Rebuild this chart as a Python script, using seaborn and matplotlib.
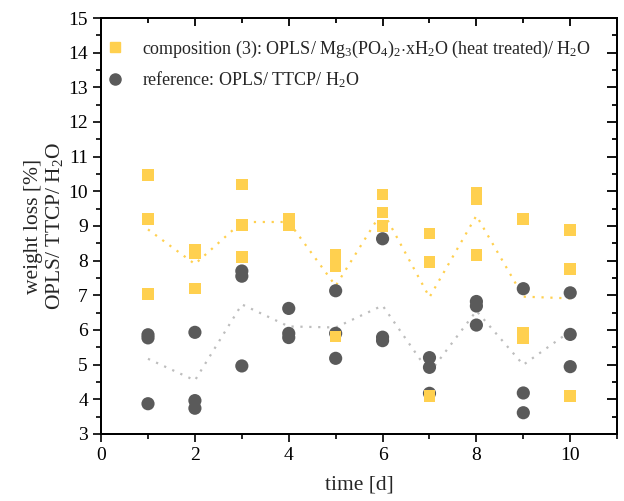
import numpy as np
import matplotlib
matplotlib.use("Agg")
import matplotlib.pyplot as plt
import seaborn as sns
import pandas as pd
from matplotlib.lines import Line2D
from matplotlib.ticker import MultipleLocator

# weight loss values, three samples per day
days = [1, 2, 3, 4, 5, 6, 7, 8, 9, 10]
comp3 = [
    [10.47, 9.20, 7.03],
    [8.30, 8.20, 7.20],
    [10.20, 9.03, 8.11],
    [9.20, 9.03],
    [8.17, 7.83, 5.81],
    [9.91, 9.39, 9.00],
    [8.78, 7.96, 4.09],
    [9.96, 9.77, 8.16],
    [9.20, 5.92, 5.76],
    [8.88, 7.75, 4.10],
]
reference = [
    [5.86, 5.77, 3.87],
    [5.93, 3.96, 3.74],
    [7.70, 7.55, 4.96],
    [6.62, 5.90, 5.78],
    [7.13, 5.90, 5.18],
    [8.63, 5.79, 5.69],
    [5.20, 4.92, 4.17],
    [6.82, 6.69, 6.14],
    [7.19, 4.18, 3.61],
    [7.07, 5.87, 4.94],
]

lbl_comp = r"composition (3): OPLS/ Mg$_3$(PO$_4$)$_2$$\cdot$xH$_2$O (heat treated)/ H$_2$O"
lbl_ref = r"reference: OPLS/ TTCP/ H$_2$O"

def to_long(vals):
    rows = []
    for d, v in zip(days, vals):
        for y in v:
            rows.append((d, y))
    return pd.DataFrame(rows, columns=["time", "loss"])

df_comp = to_long(comp3)
df_ref = to_long(reference)

yellow = "#FFD04F"
dark = "#5A5A5A"
light = "#BDBDBD"

sns.set_style("ticks")
plt.rcParams["font.family"] = ["Liberation Serif", "DejaVu Serif"]
plt.rcParams["mathtext.fontset"] = "custom"
plt.rcParams["mathtext.rm"] = "Liberation Serif"
plt.rcParams["mathtext.it"] = "Liberation Serif:italic"

fig = plt.figure(figsize=(6.24, 5.01), dpi=100)
ax = fig.add_axes([0.162, 0.134, 0.827, 0.830])

# mean curves (dotted)
sns.lineplot(x="time", y="loss", data=df_comp, estimator="mean", errorbar=None,
             color=yellow, linestyle=(0, (1, 3)), linewidth=1.6, ax=ax, zorder=1)
sns.lineplot(x="time", y="loss", data=df_ref, estimator="mean", errorbar=None,
             color=light, linestyle=(0, (1, 3)), linewidth=1.6, ax=ax, zorder=1)

sns.scatterplot(x="time", y="loss", data=df_ref, marker="o", s=90, color=dark,
                edgecolor="none", ax=ax, zorder=2)
sns.scatterplot(x="time", y="loss", data=df_comp, marker="s", s=70, color=yellow,
                edgecolor="none", ax=ax, zorder=3)

ax.set_xlim(0, 11)
ax.set_ylim(3, 15)
ax.xaxis.set_major_locator(MultipleLocator(2))
ax.xaxis.set_minor_locator(MultipleLocator(1))
ax.yaxis.set_major_locator(MultipleLocator(1))
ax.yaxis.set_minor_locator(MultipleLocator(0.5))
ax.tick_params(which="major", bottom=True, left=True, top=False, right=False,
               direction="out", length=6, width=1.2, labelsize=14, colors="black")
ax.tick_params(which="minor", bottom=True, left=True, top=False, right=False,
               direction="out", length=3.5, width=1.2, colors="black")

# mirrored inward ticks on top and right (twin axes)
axt = ax.twiny()
axt.set_xlim(ax.get_xlim())
axt.xaxis.set_major_locator(MultipleLocator(2))
axt.xaxis.set_minor_locator(MultipleLocator(1))
axt.tick_params(which="major", top=True, bottom=False, labeltop=False, labelbottom=False,
                direction="in", length=6, width=1.3, color="black")
axt.tick_params(which="minor", top=True, bottom=False, labeltop=False, labelbottom=False,
                direction="in", length=3.5, width=1.3, color="black")
axr = ax.twinx()
axr.set_ylim(ax.get_ylim())
axr.yaxis.set_major_locator(MultipleLocator(1))
axr.yaxis.set_minor_locator(MultipleLocator(0.5))
axr.tick_params(which="major", right=True, left=False, labelright=False, labelleft=False,
                direction="in", length=7, width=1.3, color="black")
axr.tick_params(which="minor", right=True, left=False, labelright=False, labelleft=False,
                direction="in", length=3.5, width=1.3, color="black")
for a in (ax, axt, axr):
    for sp in a.spines.values():
        sp.set_visible(True)
        sp.set_linewidth(1.2)
        sp.set_color("black")

ax.set_xlabel("time [d]", fontsize=15.5, labelpad=8)
ax.set_ylabel("weight loss [%]\nOPLS/ TTCP/ H$_2$O", fontsize=15.5, linespacing=1.1, labelpad=2)

handles = [
    Line2D([], [], marker="s", color=yellow, linestyle="none", markersize=7),
    Line2D([], [], marker="o", color=dark, linestyle="none", markersize=8),
]
ax.legend(handles, [lbl_comp, lbl_ref], loc="upper left", frameon=False,
          fontsize=13, bbox_to_anchor=(-0.039, 0.99), handletextpad=0.5,
          labelspacing=0.55)

fig.savefig("out.png", dpi=100)
